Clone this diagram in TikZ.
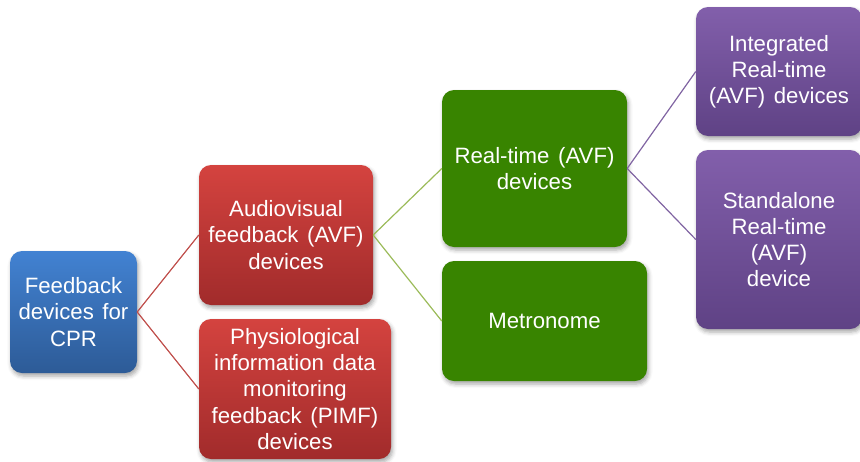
\documentclass[tikz,border=0pt]{standalone}
\usepackage{fontspec}
\setmainfont{Liberation Sans}[WordSpace={1.4,0.5,0.2}]
\usetikzlibrary{shadows.blur}
\definecolor{bluetop}{HTML}{4282D2}
\definecolor{bluebot}{HTML}{2D5B97}
\definecolor{redtop}{HTML}{D4433F}
\definecolor{redbot}{HTML}{A12B2B}
\definecolor{greenfill}{HTML}{388400}
\definecolor{purpletop}{HTML}{825FAB}
\definecolor{purplebot}{HTML}{5F4285}
\definecolor{redline}{HTML}{C0504D}
\definecolor{greenline}{HTML}{9BBB59}
\definecolor{purpleline}{HTML}{8064A2}
\begin{document}
\begin{tikzpicture}[x=1pt,y=-1pt,
  box/.style={rectangle, rounded corners=12pt, text=white, align=center,
    inner sep=0pt, font=\fontsize{22.2}{26.2}\selectfont,
    blur shadow={shadow xshift=1.5pt, shadow yshift=-3pt,
      shadow blur radius=4pt, shadow opacity=35}},
  bluebox/.style={box, top color=bluetop, bottom color=bluebot},
  redbox/.style={box, top color=redtop, bottom color=redbot},
  greenbox/.style={box, fill=greenfill},
  purplebox/.style={box, top color=purpletop, bottom color=purplebot},
  link/.style={line width=1.2pt}
]
\useasboundingbox (0,0) rectangle (860,461);

% root
\node[bluebox, minimum width=127pt, minimum height=122pt] (cpr) at (73.5,312)
  {Feedback\\devices for\\CPR};

% second level
\node[redbox, minimum width=174pt, minimum height=140pt] (avf) at (286,235)
  {Audiovisual\\feedback (AVF)\\devices};
\node[redbox, minimum width=192pt, minimum height=140pt] (pimf) at (295,389)
  {Physiological\\information data\\monitoring\\feedback (PIMF)\\devices};

% third level
\node[greenbox, minimum width=185pt, minimum height=157pt] (rt) at (534.5,168.5)
  {Real-time (AVF)\\devices};
\node[greenbox, minimum width=205pt, minimum height=120pt] (met) at (544.5,321)
  {Metronome};

% fourth level
\node[purplebox, minimum width=166pt, minimum height=129pt] (integ) at (779,71.5)
  {Integrated\\Real-time\\(AVF) devices};
\node[purplebox, minimum width=166pt, minimum height=179pt] (stand) at (779,239.5)
  {Standalone\\Real-time\\(AVF)\\device};

% connectors
\draw[link, redline] (cpr.east) -- (avf.west);
\draw[link, redline] (cpr.east) -- (pimf.west);
\draw[link, greenline] (avf.east) -- (rt.west);
\draw[link, greenline] (avf.east) -- (met.west);
\draw[link, purpleline] (rt.east) -- (integ.west);
\draw[link, purpleline] (rt.east) -- (stand.west);
\end{tikzpicture}
\end{document}
